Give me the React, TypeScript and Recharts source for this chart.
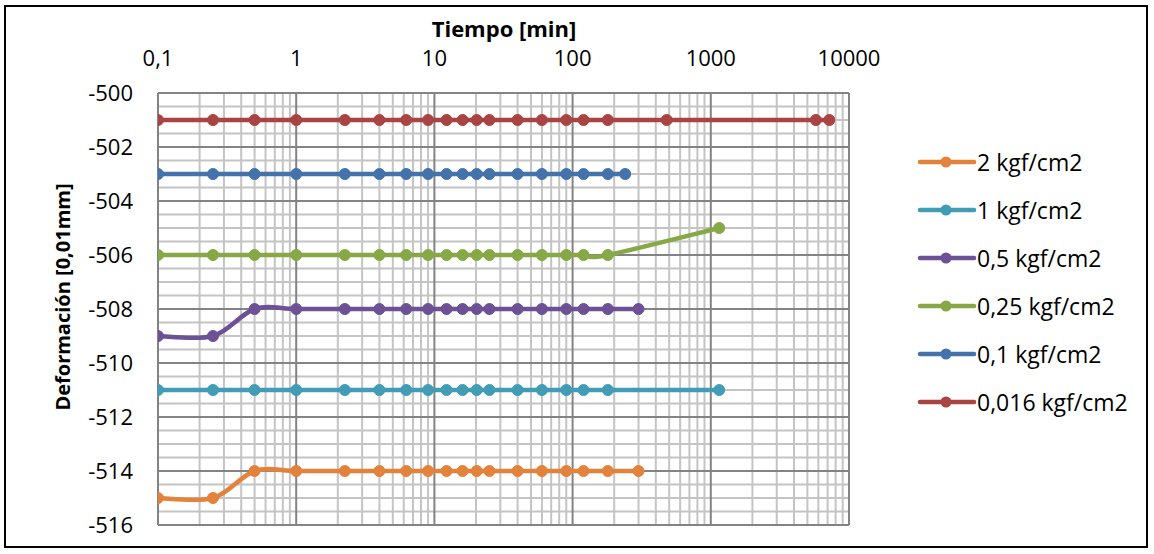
import React from 'react';
import { LineChart, Line, XAxis, YAxis, CartesianGrid } from 'recharts';

// ---- data ----
const times2 = [0.1, 0.25, 0.5, 1, 2.25, 4, 6.25, 9, 12.25, 16, 20.25, 25, 40, 60, 90, 120, 180, 300];
const def2 = [-515, -515, -514, -514, -514, -514, -514, -514, -514, -514, -514, -514, -514, -514, -514, -514, -514, -514];

const times1 = [0.1, 0.25, 0.5, 1, 2.25, 4, 6.25, 9, 12.25, 16, 20.25, 25, 40, 60, 90, 120, 180, 1150];
const def1 = [-511, -511, -511, -511, -511, -511, -511, -511, -511, -511, -511, -511, -511, -511, -511, -511, -511, -511];

const times05 = [0.1, 0.25, 0.5, 1, 2.25, 4, 6.25, 9, 12.25, 16, 20.25, 25, 40, 60, 90, 120, 180, 300];
const def05 = [-509, -509, -508, -508, -508, -508, -508, -508, -508, -508, -508, -508, -508, -508, -508, -508, -508, -508];

const times025 = [0.1, 0.25, 0.5, 1, 2.25, 4, 6.25, 9, 12.25, 16, 20.25, 25, 40, 60, 90, 120, 180, 1150];
const def025 = [-506, -506, -506, -506, -506, -506, -506, -506, -506, -506, -506, -506, -506, -506, -506, -506, -506, -505];

const times01 = [0.1, 0.25, 0.5, 1, 2.25, 4, 6.25, 9, 12.25, 16, 20.25, 25, 40, 60, 90, 120, 180, 240];
const def01 = [-503, -503, -503, -503, -503, -503, -503, -503, -503, -503, -503, -503, -503, -503, -503, -503, -503, -503];

const times0016 = [0.1, 0.25, 0.5, 1, 2.25, 4, 6.25, 9, 12.25, 16, 20.25, 25, 40, 60, 90, 120, 180, 480, 5760, 7200];
const def0016 = [-501, -501, -501, -501, -501, -501, -501, -501, -501, -501, -501, -501, -501, -501, -501, -501, -501, -501, -501, -501];

const seriesNames = ['2 kgf/cm2', '1 kgf/cm2', '0,5 kgf/cm2', '0,25 kgf/cm2', '0,1 kgf/cm2', '0,016 kgf/cm2'];
const seriesColors = ['#E3823B', '#419CB6', '#6D5196', '#86A845', '#4472AB', '#A94442'];
const seriesTimes = [times2, times1, times05, times025, times01, times0016];
const seriesValues = [def2, def1, def05, def025, def01, def0016];

const xTicks = [0.1, 1, 10, 100, 1000, 10000];
const xMinorMultipliers = [2, 3, 4, 5, 6, 7, 8, 9];
const yTicks = [-516, -514, -512, -510, -508, -506, -504, -502, -500];
const yMinorStep = 0.5;

const xTitle = 'Tiempo [min]';
const yTitle = 'Deformación [0,01mm]';

const X_DOMAIN = [0.1, 10000];
const Y_DOMAIN = [-516, -500];

const FONT = '"Open Sans", "Liberation Sans", sans-serif';

// Excel-like smoothing (Catmull-Rom as cubic Bezier)
const excelCurve = (context: any) => {
  let pts: number[][] = [];
  return {
    areaStart() {},
    areaEnd() {},
    lineStart() {
      pts = [];
    },
    point(x: number, y: number) {
      pts.push([+x, +y]);
    },
    lineEnd() {
      if (!pts.length) return;
      context.moveTo(pts[0][0], pts[0][1]);
      for (let i = 0; i < pts.length - 1; i++) {
        const p0 = pts[i - 1] || pts[i];
        const p1 = pts[i];
        const p2 = pts[i + 1];
        const p3 = pts[i + 2] || pts[i + 1];
        const c1x = p1[0] + (p2[0] - p0[0]) / 6;
        const c1y = p1[1] + (p2[1] - p0[1]) / 6;
        const c2x = p2[0] - (p3[0] - p1[0]) / 6;
        const c2y = p2[1] - (p3[1] - p1[1]) / 6;
        context.bezierCurveTo(c1x, c1y, c2x, c2y, p2[0], p2[1]);
      }
    },
  };
};

const buildSeries = (i: number) => seriesTimes[i].map((t, k) => ({ x: t, y: seriesValues[i][k] }));

const xMinorValues: number[] = [];
xTicks.slice(0, -1).forEach((d) => xMinorMultipliers.forEach((m) => xMinorValues.push(d * m)));
const yMinorValues: number[] = [];
for (let v = Y_DOMAIN[0]; v <= Y_DOMAIN[1] + 1e-9; v += yMinorStep) yMinorValues.push(v);

const applyScale = (s: any, v: number): number | undefined => {
  if (!s) return undefined;
  if (typeof s === 'function') return s(v);
  if (typeof s.map === 'function') {
    const r = s.map(v);
    if (typeof r === 'number') return r;
  }
  if (typeof s.scale === 'function') return s.scale(v);
  return undefined;
};

const mapX = (values: number[]) => (props: any) => {
  const s = props.xAxis && props.xAxis.scale;
  const off = props.offset || {};
  return values.map((v) => {
    const r = applyScale(s, v);
    if (typeof r === 'number' && !isNaN(r)) return r;
    const lo = Math.log10(X_DOMAIN[0]);
    const hi = Math.log10(X_DOMAIN[1]);
    return off.left + ((Math.log10(v) - lo) / (hi - lo)) * off.width;
  });
};
const mapY = (values: number[]) => (props: any) => {
  const s = props.yAxis && props.yAxis.scale;
  const off = props.offset || {};
  return values.map((v) => {
    const r = applyScale(s, v);
    if (typeof r === 'number' && !isNaN(r)) return r;
    return off.top + ((Y_DOMAIN[1] - v) / (Y_DOMAIN[1] - Y_DOMAIN[0])) * off.height;
  });
};

const fmtX = (v: number) => String(v).replace('.', ',');

export default function App() {
  const drawOrder = [5, 4, 3, 2, 1, 0];
  return (
    <div style={{ position: 'absolute', left: 0, top: 0, width: 1154, height: 554, background: '#fff', fontFamily: FONT }}>
      <div
        style={{
          position: 'absolute',
          left: 4,
          top: 5,
          width: 1144,
          height: 543,
          border: '2px solid #000',
          boxSizing: 'border-box',
        }}
      />
      <div style={{ position: 'absolute', left: 0, top: 0 }}>
        <LineChart
          width={1154}
          height={554}
          margin={{ top: 63, right: 305, bottom: 29, left: 98 }}
          style={{ fontFamily: FONT }}
        >
          <CartesianGrid
            stroke="#C4C4C4"
            strokeWidth={2}
            verticalCoordinatesGenerator={mapX(xMinorValues)}
            horizontalCoordinatesGenerator={mapY(yMinorValues)}
          />
          <CartesianGrid
            stroke="#838383"
            strokeWidth={2}
            verticalCoordinatesGenerator={mapX(xTicks)}
            horizontalCoordinatesGenerator={mapY(yTicks)}
          />
          <XAxis
            type="number"
            dataKey="x"
            scale="log"
            domain={X_DOMAIN}
            allowDataOverflow
            orientation="top"
            ticks={xTicks}
            tickFormatter={fmtX}
            height={30}
            axisLine={false}
            tickLine={false}
            tickSize={0}
            tickMargin={27}
            tick={{ fontSize: 22, fill: '#000', fontFamily: FONT }}
            interval={0}
          />
          <YAxis
            type="number"
            domain={Y_DOMAIN}
            ticks={yTicks}
            width={60}
            axisLine={false}
            tickLine={false}
            tickSize={0}
            tickMargin={25}
            tick={{ fontSize: 22, fill: '#000', fontFamily: FONT }}
            interval={0}
          />
          {drawOrder.map((i) => (
            <Line
              key={seriesNames[i]}
              data={buildSeries(i)}
              dataKey="y"
              name={seriesNames[i]}
              type={excelCurve as any}
              stroke={seriesColors[i]}
              strokeWidth={4.5}
              dot={{ r: 5.5, fill: seriesColors[i], stroke: seriesColors[i], strokeWidth: 1 }}
              activeDot={false}
              isAnimationActive={false}
            />
          ))}
        </LineChart>
      </div>
      <div
        style={{
          position: 'absolute',
          left: 354,
          width: 300,
          top: 17,
          textAlign: 'center',
          fontSize: 22,
          fontWeight: 700,
          lineHeight: '22px',
          color: '#000',
          whiteSpace: 'nowrap',
        }}
      >
        {xTitle}
      </div>
      <div
        style={{
          position: 'absolute',
          left: 63 - 160,
          top: 297 - 12,
          width: 320,
          height: 24,
          lineHeight: '24px',
          textAlign: 'center',
          fontSize: 20,
          fontWeight: 700,
          color: '#000',
          transform: 'rotate(-90deg)',
          whiteSpace: 'nowrap',
        }}
      >
        {yTitle}
      </div>
      {seriesNames.map((name, i) => (
        <div
          key={name}
          style={{ position: 'absolute', left: 917, top: 162 - 12 + i * 48, height: 24, display: 'flex', alignItems: 'center' }}
        >
          <svg width={60} height={24} style={{ display: 'block' }}>
            <line x1={3} y1={12} x2={57} y2={12} stroke={seriesColors[i]} strokeWidth={4.5} strokeLinecap="round" />
            <circle cx={29} cy={12} r={5.5} fill={seriesColors[i]} />
          </svg>
          <span style={{ fontSize: 23, lineHeight: '24px', color: '#000', whiteSpace: 'nowrap' }}>{name}</span>
        </div>
      ))}
    </div>
  );
}
